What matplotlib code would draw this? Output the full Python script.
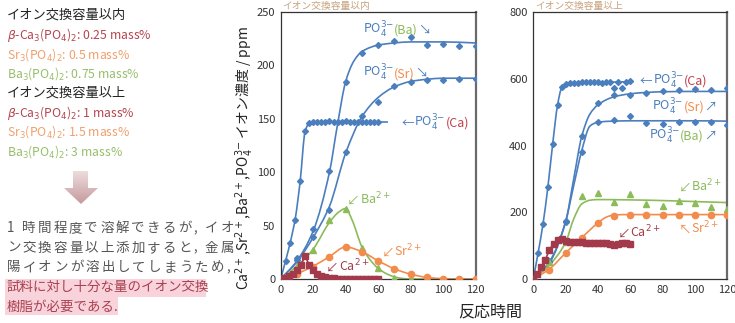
import numpy as np
import matplotlib
matplotlib.use('Agg')
import matplotlib.pyplot as plt
from matplotlib.path import Path
from matplotlib.patches import PathPatch, Polygon, Rectangle

plt.rcParams['font.family'] = ['Noto Sans CJK JP', 'DejaVu Sans']

# ---- data: within ion-exchange capacity (left) ----
l_ca_po4_t = [0, 3, 6, 9, 12, 15] + list(np.arange(17.5, 60.1, 2.5))
l_ca_po4 = [0, 17, 34, 55, 92, 139] + [146, 147, 147, 147, 147, 148, 147, 147, 147, 148,
                                       147, 147, 147, 147, 147, 147, 147, 147]
l_ca_po4_fit_t = [0, 3, 6, 9, 12, 15, 17.5, 20, 30, 45, 60, 66]
l_ca_po4_fit = [0, 17, 35, 57, 92, 138, 146, 147, 147, 147, 147, 147]

l_t = [0, 10, 20, 30, 40, 50, 60, 70, 80, 90, 100, 110, 120]
l_ba_po4 = [0, 20, 47, 101, 184, 212, 219, 223, 227, 219, 220, 218, 218]
l_sr_po4 = [0, 18, 39, 65, 119, 153, 166, 181, 184, 186, 186, 187, 187]
l_ba_ion = [0, 12, 27, 55, 66, 29, 10, 1, 0, 0, 0, 0, 0]
l_sr_ion = [0, 5, 11.5, 21, 30, 25.5, 17, 9.5, 4.5, 2, 0, 0, 0]

l_ba_po4_fit_t = [0, 10, 20, 30, 35, 40, 45, 50, 60, 70, 80, 100, 120]
l_ba_po4_fit = [0, 17, 45, 100, 145, 185, 204, 213, 219, 221, 222, 222, 221]
l_sr_po4_fit_t = [0, 10, 20, 30, 40, 50, 60, 70, 80, 90, 100, 120]
l_sr_po4_fit = [0, 16, 39, 68, 118, 152, 170, 180, 185, 187, 188, 188]
l_ba_ion_fit_t = [0, 10, 20, 30, 36, 40, 44, 50, 55, 60, 65, 70, 75, 80, 120]
l_ba_ion_fit = [0, 12, 28, 53, 63, 66, 55, 30, 18, 10, 5, 2, 0.5, 0, 0]
l_sr_ion_fit_t = [0, 10, 20, 30, 40, 50, 60, 70, 80, 90, 100, 110, 120]
l_sr_ion_fit = [0, 5, 12, 21, 30, 25.5, 17, 9.5, 4.5, 1.5, 0.3, 0, 0]

l_ca_ion_t = list(np.arange(0, 60.1, 2.5))
l_ca_ion = [0, 1, 3, 5, 8, 13, 22, 13, 8, 5, 3, 2, 1, 0.5, 0, 0, 0, 0, 0, 0, 0, 0, 0, 0, 0]

# ---- data: above ion-exchange capacity (right) ----
r_ca_po4_t = [0, 3, 6, 9, 12, 15] + list(np.arange(17.5, 60.1, 2.5))
r_ca_po4 = [0, 79, 165, 275, 405, 521] + [575, 585, 588, 588, 588, 590, 590, 590, 590,
                                          590, 588, 590, 590, 572, 590, 572, 590, 594]
r_ca_po4_fit_t = [0, 3, 6, 9, 12, 15, 17.5, 20, 25, 30, 40, 50, 60, 62]
r_ca_po4_fit = [0, 79, 165, 275, 405, 521, 572, 582, 586, 588, 589, 590, 591, 591]

r_t = [0, 10, 20, 30, 40, 50, 60, 70, 80, 90, 100, 110, 120]
r_sr_po4 = [0, 55, 175, 429, 527, 552, 552, 557, 563, 566, 570, 566, 572]
r_ba_po4 = [0, 50, 172, 382, 470, 475, 489, 467, 465, 471, 471, 471, 460]
r_ba_ion = [0, 50, 110, 250, 257, 230, 255, 224, 219, 235, 227, 215, 209]
r_sr_ion = [0, 27, 79, 122, 169, 190, 193, 193, 193, 193, 193, 193, 193]

r_sr_po4_fit_t = [0, 10, 20, 25, 30, 35, 40, 50, 60, 70, 80, 100, 120]
r_sr_po4_fit = [0, 52, 172, 300, 428, 494, 522, 546, 555, 559, 561, 562, 562]
r_ba_po4_fit_t = [0, 10, 20, 25, 30, 35, 40, 50, 60, 80, 100, 120]
r_ba_po4_fit = [0, 48, 172, 280, 385, 458, 470, 473, 474, 474, 474, 473]
r_ba_ion_fit_t = [0, 10, 20, 25, 30, 35, 40, 60, 80, 100, 120]
r_ba_ion_fit = [0, 42, 110, 180, 225, 236, 238, 237, 235, 232, 229]
r_sr_ion_fit_t = [0, 10, 20, 30, 40, 45, 50, 60, 120]
r_sr_ion_fit = [0, 30, 78, 124, 168, 185, 192, 193, 193]

r_ca_ion_t = list(np.arange(0, 60.1, 2.5))
r_ca_ion = [0, 14, 37, 58, 88, 105, 116, 119, 115, 112, 111, 110, 110, 109, 109, 108,
            108, 108, 107, 106, 103, 106, 107, 107, 106]

x_ticks = [0, 20, 40, 60, 80, 100, 120]
l_y_ticks = [0, 50, 100, 150, 200, 250]
r_y_ticks = [0, 200, 400, 600, 800]

BLUE = '#4a7ebd'
GREEN = '#8cbb5a'
ORANGE = '#f28c4c'
MAROON = '#a33a4c'
RED = '#c2404f'


def smooth_path(x, y):
    # monotone cubic through the fit knots, drawn as bezier segments
    x = np.asarray(x, float)
    y = np.asarray(y, float)
    h = np.diff(x)
    d = np.diff(y) / h
    m = np.zeros_like(y)
    for i in range(1, len(x) - 1):
        if d[i - 1] * d[i] > 0:
            w1 = 2 * h[i] + h[i - 1]
            w2 = h[i] + 2 * h[i - 1]
            m[i] = (w1 + w2) / (w1 / d[i - 1] + w2 / d[i])
    m[0] = d[0]
    m[-1] = d[-1]
    verts = [(x[0], y[0])]
    codes = [Path.MOVETO]
    for i in range(len(h)):
        verts += [(x[i] + h[i] / 3, y[i] + m[i] * h[i] / 3),
                  (x[i + 1] - h[i] / 3, y[i + 1] - m[i + 1] * h[i] / 3),
                  (x[i + 1], y[i + 1])]
        codes += [Path.CURVE4] * 3
    return Path(verts, codes)


def curve(ax, x, y, color):
    ax.add_patch(PathPatch(smooth_path(x, y), fill=False, edgecolor=color, lw=1.2, zorder=2))


fig = plt.figure(figsize=(7.35, 3.23), dpi=100)
renderer = fig.canvas.get_renderer()


def colored(ax, x, y, parts, size=9):
    for s, c in parts:
        t = ax.text(x, y, s, color=c, fontsize=size, va='baseline', ha='left', zorder=5)
        bb = t.get_window_extent(renderer)
        x = ax.transData.inverted().transform((bb.x1, bb.y0))[0]


# overlay for the left-hand text, in pixel coordinates
ov = fig.add_axes([0, 0, 1, 1])
ov.set_xlim(0, 735)
ov.set_ylim(323, 0)
ov.axis('off')


def justified(s, x0, x1, y, color, size):
    # spread the characters of one line over x0..x1 like a justified paragraph
    widths = []
    for ch in s:
        t = ov.text(0, 0, ch, fontsize=size)
        widths.append(max(t.get_window_extent(renderer).width, size * 0.35))
        t.remove()
    gap = (x1 - x0 - sum(widths)) / (len(s) - 1)
    x = x0
    for ch, w in zip(s, widths):
        ov.text(x, y, ch, color=color, fontsize=size, va='center', ha='left', zorder=2)
        x += w + gap


lines = [
    ('イオン交換容量以内', '#222222', 9.5),
    (r'$\beta$-Ca$_3$(PO$_4$)$_2$: 0.25 mass%', '#b5454f', 8.8),
    (r'Sr$_3$(PO$_4$)$_2$: 0.5 mass%', '#f0a06c', 8.8),
    (r'Ba$_3$(PO$_4$)$_2$: 0.75 mass%', '#96bf6a', 8.8),
    ('イオン交換容量以上', '#222222', 9.5),
    (r'$\beta$-Ca$_3$(PO$_4$)$_2$: 1 mass%', '#b5454f', 8.8),
    (r'Sr$_3$(PO$_4$)$_2$: 1.5 mass%', '#f0a06c', 8.8),
    (r'Ba$_3$(PO$_4$)$_2$: 3 mass%', '#96bf6a', 8.8),
]
for i, (s, c, fs) in enumerate(lines):
    ov.text(7, 15.5 + i * 19.4, s, color=c, fontsize=fs, va='center', ha='left')

# down arrow with a soft gradient
arrow = Polygon([(73, 171), (88, 171), (88, 188), (98, 188), (81, 204), (64, 188), (73, 188)],
                closed=True, facecolor='none', edgecolor='none')
ov.add_patch(arrow)
grad = np.linspace(0, 1, 64).reshape(-1, 1)
cmap = matplotlib.colors.LinearSegmentedColormap.from_list('ar', ['#eddcdc', '#c59a9e'])
im = ov.imshow(grad, extent=(64, 98, 204, 171), cmap=cmap, aspect='auto', zorder=1)
im.set_clip_path(arrow)

para = [
    ('1 時間程度で溶解できるが, イオ', '#555555', 234),
    ('ン交換容量以上添加すると, 金属', '#555555', 234),
    ('陽イオンが溶出してしまうため,', '#555555', 230),
    ('試料に対し十分な量のイオン交換', '#a8404f', None),
    ('樹脂が必要である.', '#a8404f', None),
]
ov.add_patch(Rectangle((5, 279), 201, 18, facecolor='#f9d3dc', edgecolor='none', zorder=0))
ov.add_patch(Rectangle((5, 297), 113, 18, facecolor='#f9d3dc', edgecolor='none', zorder=0))
for i, (s, c, x1) in enumerate(para):
    y = 228 + i * 19.7
    if x1 is None:
        ov.text(7, y, s, color=c, fontsize=9.7, va='center', ha='left', zorder=2)
    else:
        justified(s, 7, x1, y, c, 9.7)

axl = fig.add_axes([280.7 / 735, 44 / 323, 195 / 735, 267 / 323])
axr = fig.add_axes([533.3 / 735, 44 / 323, 194 / 735, 267 / 323])

for ax, yt, title in [(axl, l_y_ticks, 'イオン交換容量以内'), (axr, r_y_ticks, 'イオン交換容量以上')]:
    ax.set_xlim(0, 120)
    ax.set_ylim(yt[0], yt[-1])
    ax.set_xticks(x_ticks)
    ax.set_yticks(yt)
    ax.tick_params(length=0, pad=4, labelsize=8, labelcolor='#333333')
    for side in ['left', 'top', 'bottom']:
        ax.spines[side].set_color('#333333')
        ax.spines[side].set_linewidth(0.9)
    ax.spines['right'].set_color('#6a6a6a')
    ax.spines['right'].set_linewidth(1.6)
    ax.patch.set_alpha(0)
    ax.text(0.01, 1.004, title, transform=ax.transAxes, fontsize=7, color='#c9a27e',
            va='bottom', ha='left')

# left chart
curve(axl, l_ca_po4_fit_t, l_ca_po4_fit, BLUE)
curve(axl, l_ba_po4_fit_t, l_ba_po4_fit, BLUE)
curve(axl, l_sr_po4_fit_t, l_sr_po4_fit, BLUE)
curve(axl, l_ba_ion_fit_t, l_ba_ion_fit, GREEN)
curve(axl, l_sr_ion_fit_t, l_sr_ion_fit, ORANGE)
axl.plot(l_ca_po4_t, l_ca_po4, 'D', color=BLUE, ms=3, zorder=3)
axl.plot(l_t, l_ba_po4, 'D', color=BLUE, ms=3, zorder=3)
axl.plot(l_t, l_sr_po4, 'D', color=BLUE, ms=3, zorder=3)
axl.plot(l_t, l_ba_ion, '^', color=GREEN, ms=4.5, zorder=3)
axl.plot(l_t, l_sr_ion, 'o', color=ORANGE, ms=4.5, zorder=3)
axl.plot(l_ca_ion_t, l_ca_ion, 's-', color=MAROON, ms=4, lw=1.2, zorder=4)

po4 = r'PO$_4^{3\mathrm{-}}$'
colored(axl, 50.5, 230, [(po4, BLUE), ('(Ba)', GREEN), ('↘', BLUE)])
colored(axl, 50.5, 189, [(po4, BLUE), ('(Sr)', ORANGE), ('↘', BLUE)])
colored(axl, 74.5, 142.5, [('←', BLUE), (po4, BLUE), ('(Ca)', RED)])
colored(axl, 41, 70, [('↙', GREEN), (r'Ba$^{2+}$', GREEN)])
colored(axl, 62, 21, [('↙', ORANGE), (r'Sr$^{2+}$', ORANGE)])
colored(axl, 28, 7, [('↙', MAROON), (r'Ca$^{2+}$', MAROON)])

# right chart
curve(axr, r_ca_po4_fit_t, r_ca_po4_fit, BLUE)
curve(axr, r_sr_po4_fit_t, r_sr_po4_fit, BLUE)
curve(axr, r_ba_po4_fit_t, r_ba_po4_fit, BLUE)
curve(axr, r_ba_ion_fit_t, r_ba_ion_fit, GREEN)
curve(axr, r_sr_ion_fit_t, r_sr_ion_fit, ORANGE)
axr.plot(r_ca_po4_t, r_ca_po4, 'D', color=BLUE, ms=3, zorder=3)
axr.plot(r_t, r_sr_po4, 'D', color=BLUE, ms=3, zorder=3)
axr.plot(r_t, r_ba_po4, 'D', color=BLUE, ms=3, zorder=3)
axr.plot(r_t, r_ba_ion, '^', color=GREEN, ms=4.5, zorder=3)
axr.plot(r_t, r_sr_ion, 'o', color=ORANGE, ms=4.5, zorder=3)
axr.plot(r_ca_ion_t, r_ca_ion, 's-', color=MAROON, ms=4, lw=1.2, zorder=4)

colored(axr, 66, 582, [('←', BLUE), (po4, BLUE), ('(Ca)', RED)])
colored(axr, 73.5, 505, [(po4, BLUE), ('(Sr)', ORANGE), ('↗', BLUE)])
colored(axr, 71.5, 418, [(po4, BLUE), ('(Ba)', GREEN), ('↗', BLUE)])
colored(axr, 90, 262, [('↙', GREEN), (r'Ba$^{2+}$', GREEN)])
colored(axr, 90, 137, [('↖', ORANGE), (r'Sr$^{2+}$', ORANGE)])
colored(axr, 52, 125, [('↙', MAROON), (r'Ca$^{2+}$', MAROON)])

fig.text(245 / 735, 1 - 158 / 323,
         r'Ca$^{2+}$,Sr$^{2+}$,Ba$^{2+}$,PO$_4^{3\mathrm{-}}$ イオン濃度 / ppm',
         rotation=90, ha='center', va='center', fontsize=10, color='#222222')
fig.text(490 / 735, 1 - 312 / 323, '反応時間', ha='center', va='center',
         fontsize=11.5, color='#222222')

fig.savefig('out.png', dpi=100)
